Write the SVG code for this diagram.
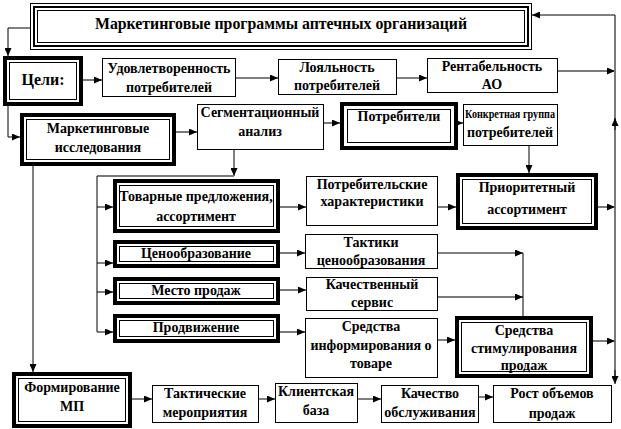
<svg xmlns="http://www.w3.org/2000/svg" width="621" height="429" viewBox="0 0 621 429">
<style>
.t{font-family:"Liberation Serif","DejaVu Serif",serif;font-weight:bold;font-size:14px;text-anchor:middle;fill:#000}
.tt{font-size:16px}
.ts{font-size:13px}
.box{fill:#fff;stroke:#000;stroke-width:1}
.thick{fill:#fff;stroke:#000;stroke-width:4}
.th2{fill:none;stroke:#000;stroke-width:2}
.inner{fill:none;stroke:#000;stroke-width:1}
.c{fill:none;stroke:#000;stroke-width:1}
.g{fill:none;stroke:#7a7a7a;stroke-width:2}
</style>
<defs>
<marker id="a" markerUnits="userSpaceOnUse" markerWidth="8" markerHeight="7" refX="8" refY="3.5" orient="auto">
<path d="M0,0 L8,3.5 L0,7 z" fill="#000"/>
</marker>
</defs>
<rect x="0" y="0" width="621" height="429" fill="#fff"/>

<g id="connectors">
<polyline class="c" points="30,28 8,28 8,56" marker-end="url(#a)"/>
<polyline class="c" points="8,106 8,137 20,137" marker-end="url(#a)"/>
<line class="g" x1="83" y1="80" x2="102" y2="80" marker-end="url(#a)"/>
<line class="c" x1="236" y1="78" x2="278" y2="78" marker-end="url(#a)"/>
<line class="c" x1="397" y1="78" x2="427" y2="78" marker-end="url(#a)"/>
<line class="g" x1="558" y1="71" x2="615" y2="71" marker-end="url(#a)"/>
<polyline class="g" points="615,382 615,15"/>
<line class="c" x1="615" y1="15" x2="532" y2="15" marker-end="url(#a)"/>
<line class="c" x1="615" y1="130" x2="615" y2="118" marker-end="url(#a)"/>
<line class="c" x1="615" y1="370" x2="615" y2="384" marker-end="url(#a)"/>
<line class="g" x1="176" y1="132" x2="197" y2="132" marker-end="url(#a)"/>
<line class="g" x1="324" y1="123" x2="340" y2="123" marker-end="url(#a)"/>
<line class="c" x1="458" y1="123" x2="463" y2="123" marker-end="url(#a)"/>
<line class="c" x1="529" y1="146" x2="529" y2="173" marker-end="url(#a)"/>
<line class="c" x1="234" y1="150" x2="234" y2="176" marker-end="url(#a)"/>
<line class="g" x1="234" y1="176" x2="97" y2="176"/>
<line class="c" x1="97" y1="176" x2="97" y2="332"/>
<line class="c" x1="97" y1="207" x2="113" y2="207" marker-end="url(#a)"/>
<line class="c" x1="97" y1="263" x2="113" y2="263" marker-end="url(#a)"/>
<line class="c" x1="97" y1="292" x2="113" y2="292" marker-end="url(#a)"/>
<line class="c" x1="97" y1="332" x2="113" y2="332" marker-end="url(#a)"/>
<line class="g" x1="280" y1="207" x2="306" y2="207" marker-end="url(#a)"/>
<line class="g" x1="438" y1="207" x2="456" y2="207" marker-end="url(#a)"/>
<line class="g" x1="598" y1="207" x2="615" y2="207" marker-end="url(#a)"/>
<line class="g" x1="278" y1="253" x2="305" y2="253" marker-end="url(#a)"/>
<line class="g" x1="278" y1="290" x2="306" y2="290" marker-end="url(#a)"/>
<line class="g" x1="278" y1="332" x2="305" y2="332" marker-end="url(#a)"/>
<line class="c" x1="438" y1="253" x2="523" y2="253" marker-end="url(#a)"/>
<line class="g" x1="438" y1="297" x2="523" y2="297" marker-end="url(#a)"/>
<line class="c" x1="523" y1="253" x2="523" y2="316"/>
<line class="c" x1="438" y1="340" x2="455" y2="340" marker-end="url(#a)"/>
<line class="g" x1="593" y1="341" x2="615" y2="341" marker-end="url(#a)"/>
<line class="c" x1="33" y1="166" x2="33" y2="372" marker-end="url(#a)"/>
<line class="c" x1="132" y1="399" x2="152" y2="399" marker-end="url(#a)"/>
<line class="c" x1="259" y1="399" x2="275" y2="399" marker-end="url(#a)"/>
<line class="c" x1="358" y1="399" x2="381" y2="399" marker-end="url(#a)"/>
<line class="c" x1="479" y1="397" x2="493" y2="397" marker-end="url(#a)"/>
</g>

<g id="title">
<rect class="box" x="30.5" y="3.5" width="501" height="46"/>
<rect class="th2" x="34" y="7" width="494" height="39"/>
<rect class="inner" x="37.5" y="10.5" width="487" height="32"/>
<text class="t tt" x="281" y="29" textLength="372" lengthAdjust="spacingAndGlyphs">Маркетинговые программы аптечных организаций</text>
</g>

<g id="goals">
<rect class="thick" x="5" y="58" width="76" height="46"/>
<rect class="inner" x="9.5" y="62.5" width="67" height="37"/>
<text class="t tt" x="43" y="85">Цели:</text>
</g>

<g id="satisfaction">
<rect class="box" x="102.5" y="58.5" width="133" height="38"/>
<text class="t" x="169" y="73">Удовлетворенность</text>
<text class="t" x="169" y="92">потребителей</text>
</g>

<g id="loyalty">
<rect class="box" x="278.5" y="59.5" width="118" height="35"/>
<text class="t" x="337" y="72">Лояльность</text>
<text class="t" x="337" y="90">потребителей</text>
</g>

<g id="profit">
<rect class="box" x="427.5" y="58.5" width="130" height="34"/>
<text class="t" x="492" y="71">Рентабельность</text>
<text class="t" x="492" y="89">АО</text>
</g>

<g id="research">
<rect class="thick" x="22" y="115" width="152" height="49"/>
<rect class="inner" x="26.5" y="119.5" width="143" height="40"/>
<text class="t" x="98" y="133">Маркетинговые</text>
<text class="t" x="98" y="152">исследования</text>
</g>

<g id="segment">
<rect class="box" x="197.5" y="104.5" width="126" height="45"/>
<text class="t" x="260" y="117">Сегментационный</text>
<text class="t" x="260" y="136">анализ</text>
</g>

<g id="consumers">
<rect class="thick" x="342" y="104" width="114" height="44"/>
<rect class="inner" x="347.5" y="109.5" width="103" height="33"/>
<text class="t" x="399" y="121">Потребители</text>
</g>

<g id="group">
<rect class="box" x="463.5" y="104.5" width="94" height="41"/>
<text class="t ts" x="510" y="118" textLength="90" lengthAdjust="spacingAndGlyphs">Конкретная группа</text>
<text class="t" x="510" y="137">потребителей</text>
</g>

<g id="goods">
<rect class="thick" x="115" y="181" width="163" height="50"/>
<rect class="inner" x="119.5" y="185.5" width="154" height="41"/>
<text class="t" x="196" y="201">Товарные предложения,</text>
<text class="t" x="196" y="221">ассортимент</text>
</g>

<g id="characteristics">
<rect class="box" x="306.5" y="176.5" width="131" height="49"/>
<text class="t" x="372" y="189">Потребительские</text>
<text class="t" x="372" y="206">характеристики</text>
</g>

<g id="priority">
<rect class="thick" x="458" y="175" width="138" height="53"/>
<rect class="inner" x="462.5" y="179.5" width="129" height="44"/>
<text class="t" x="527" y="192">Приоритетный</text>
<text class="t" x="527" y="214">ассортимент</text>
</g>

<g id="pricing">
<rect class="thick" x="115" y="242" width="163" height="24"/>
<rect class="inner" x="119.5" y="246.5" width="154" height="15"/>
<text class="t" x="196" y="258">Ценообразование</text>
</g>

<g id="tactics">
<rect class="box" x="305.5" y="234.5" width="132" height="34"/>
<text class="t" x="371" y="247">Тактики</text>
<text class="t" x="371" y="265">ценообразования</text>
</g>

<g id="place">
<rect class="thick" x="115" y="279" width="163" height="24"/>
<rect class="inner" x="119.5" y="283.5" width="154" height="15"/>
<text class="t" x="196" y="295">Место продаж</text>
</g>

<g id="service">
<rect class="box" x="306.5" y="277.5" width="131" height="33"/>
<text class="t" x="372" y="289">Качественный</text>
<text class="t" x="372" y="307">сервис</text>
</g>

<g id="promotion">
<rect class="thick" x="115" y="316" width="163" height="25"/>
<rect class="inner" x="119.5" y="320.5" width="154" height="16"/>
<text class="t" x="196" y="332">Продвижение</text>
</g>

<g id="info">
<rect class="box" x="305.5" y="318.5" width="132" height="59"/>
<text class="t" x="371" y="331">Средства</text>
<text class="t" x="371" y="350">информирования  о</text>
<text class="t" x="371" y="368">товаре</text>
</g>

<g id="stimulus">
<rect class="thick" x="457" y="318" width="134" height="58"/>
<rect class="inner" x="461.5" y="322.5" width="125" height="49"/>
<text class="t" x="524" y="335">Средства</text>
<text class="t" x="524" y="353">стимулирования</text>
<text class="t" x="524" y="370">продаж</text>
</g>

<g id="formation">
<rect class="thick" x="14" y="374" width="116" height="52"/>
<rect class="inner" x="18.5" y="378.5" width="107" height="43"/>
<text class="t" x="72" y="392">Формирование</text>
<text class="t" x="72" y="411">МП</text>
</g>

<g id="measures">
<rect class="box" x="152.5" y="385.5" width="106" height="37"/>
<text class="t" x="205" y="398">Тактические</text>
<text class="t" x="205" y="417">мероприятия</text>
</g>

<g id="clients">
<rect class="box" x="275.5" y="383.5" width="82" height="39"/>
<text class="t" x="316" y="396">Клиентская</text>
<text class="t" x="316" y="415">база</text>
</g>

<g id="quality">
<rect class="box" x="381.5" y="385.5" width="97" height="37"/>
<text class="t" x="430" y="398">Качество</text>
<text class="t" x="430" y="417">обслуживания</text>
</g>

<g id="growth">
<rect class="box" x="493.5" y="385.5" width="118" height="37"/>
<text class="t" x="552" y="398">Рост объемов</text>
<text class="t" x="552" y="418">продаж</text>
</g>
</svg>
